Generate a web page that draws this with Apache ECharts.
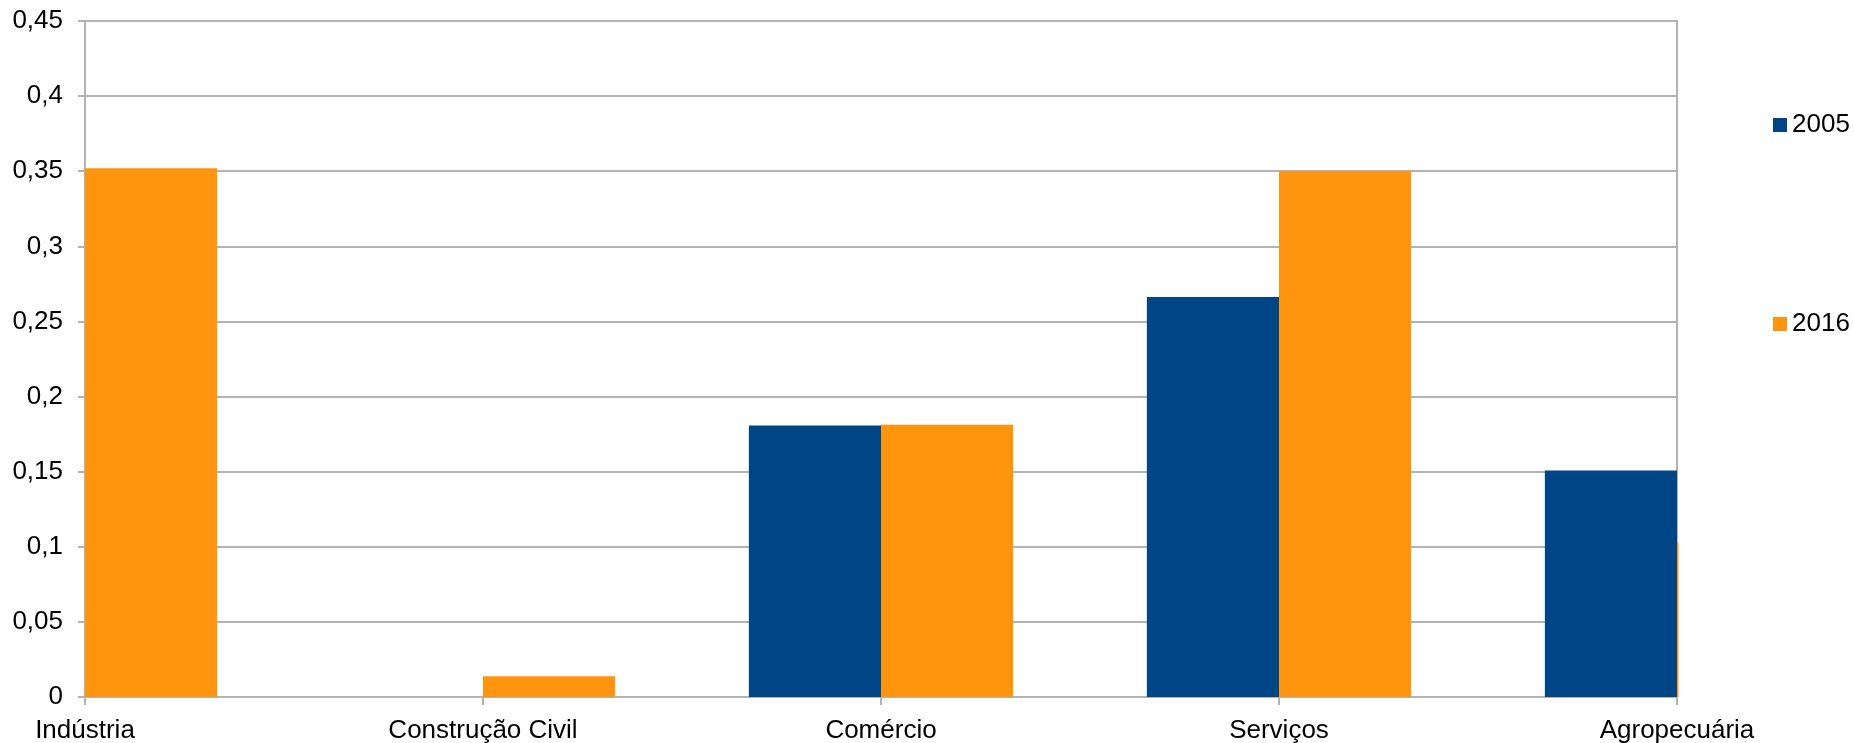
<!DOCTYPE html>
<html>
<head>
<meta charset="utf-8">
<script src="https://cdn.jsdelivr.net/npm/echarts@6/dist/echarts.min.js"></script>
<style>
html,body{margin:0;padding:0;background:#fff;}
#chart{width:1854px;height:743px;}
</style>
</head>
<body>
<div id="chart"></div>
<script>
var categories = ['Indústria', 'Construção Civil', 'Comércio', 'Serviços', 'Agropecuária'];
var seriesNames = ['2005', '2016'];
var values2005 = [null, 0, 0.1808, 0.2663, 0.1508];
var values2016 = [0.352, 0.0138, 0.1812, 0.35, 0.1027];
var yTicks = {min: 0, max: 0.45, interval: 0.05};

var colors = ['#004586', '#ff950e'];
var barFraction = 0.332; // bar width as a fraction of category spacing

function makeData(vals) {
  return vals.map(function (v, i) { return [i, v]; });
}

function makeRender(side) {
  return function (params, api) {
    var val = api.value(1);
    if (val == null || isNaN(val)) return null;
    var idx = api.value(0);
    var base = api.coord([idx, 0]);
    var top = api.coord([idx, val]);
    var step = api.size([1, 0])[0];
    var bw = step * barFraction;
    var x = side < 0 ? base[0] - bw : base[0];
    var cs = params.coordSys;
    var rect = echarts.graphic.clipRectByRect(
      {x: x, y: top[1], width: bw, height: base[1] - top[1]},
      {x: cs.x - 1.5, y: cs.y, width: cs.width + 3, height: cs.height}
    );
    if (!rect) return null;
    return {type: 'rect', shape: rect, style: {fill: api.visual('color')}};
  };
}

var chart = echarts.init(document.getElementById('chart'));
var font = 'Liberation Sans, Arial, sans-serif';
chart.setOption({
  animation: false,
  textStyle: {fontFamily: font},
  grid: {left: 85, right: 177, top: 21, bottom: 46, containLabel: false, outerBoundsMode: 'none',
         show: true, borderColor: '#b3b3b3', borderWidth: 2, backgroundColor: 'transparent'},
  legend: {
    orient: 'vertical',
    left: 1773,
    top: 112,
    padding: 0,
    itemWidth: 14,
    itemHeight: 14,
    itemGap: 173,
    icon: 'rect',
    textStyle: {fontSize: 26, color: '#000', fontFamily: font, lineHeight: 26},
    data: seriesNames
  },
  xAxis: {
    type: 'category',
    data: categories,
    boundaryGap: false,
    axisLine: {lineStyle: {color: '#b3b3b3', width: 2}},
    axisTick: {show: true, length: 8, lineStyle: {color: '#b3b3b3', width: 2}},
    axisLabel: {fontSize: 26, color: '#000', margin: 21, fontFamily: font, interval: 0},
    splitLine: {show: false}
  },
  yAxis: {
    type: 'value',
    min: yTicks.min,
    max: yTicks.max,
    interval: yTicks.interval,
    axisLine: {show: true, lineStyle: {color: '#b3b3b3', width: 2}},
    axisTick: {show: true, length: 7, lineStyle: {color: '#b3b3b3', width: 2}},
    axisLabel: {
      fontSize: 26, color: '#000', margin: 22, fontFamily: font,
      formatter: function (v) { return String(Math.round(v * 100) / 100).replace('.', ','); }
    },
    splitLine: {show: true, lineStyle: {color: '#b3b3b3', width: 2}}
  },
  series: [
    {name: seriesNames[0], type: 'custom', data: makeData(values2005), renderItem: makeRender(-1),
     itemStyle: {color: colors[0]}, encode: {x: 0, y: 1}, z: 3},
    {name: seriesNames[1], type: 'custom', data: makeData(values2016), renderItem: makeRender(1),
     itemStyle: {color: colors[1]}, encode: {x: 0, y: 1}, z: 3}
  ]
});
</script>
</body>
</html>
